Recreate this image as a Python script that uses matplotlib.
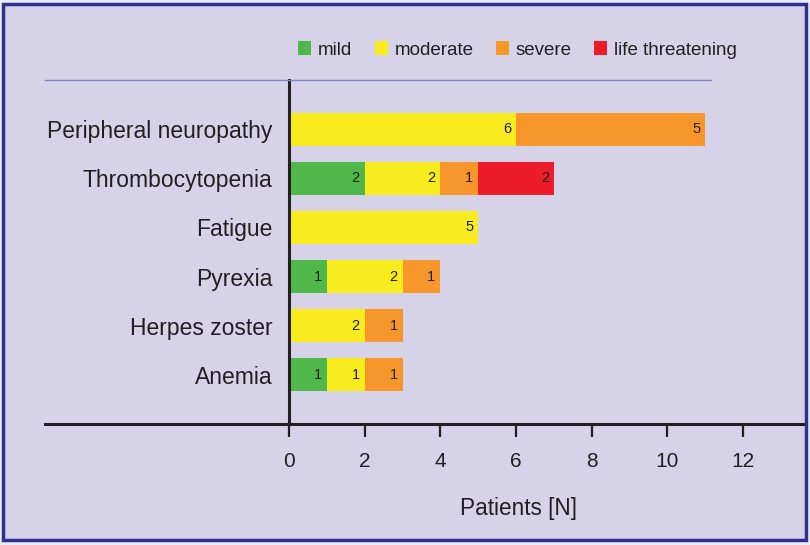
import matplotlib
matplotlib.use("Agg")
import matplotlib.pyplot as plt
from matplotlib.patches import Rectangle, Patch
from matplotlib.lines import Line2D
import numpy as np

plt.rcParams['font.family'] = ['Liberation Sans', 'DejaVu Sans']

categories = ["Peripheral neuropathy", "Thrombocytopenia", "Fatigue", "Pyrexia", "Herpes zoster", "Anemia"]
mild = [0, 2, 0, 1, 0, 1]
moderate = [6, 2, 5, 2, 2, 1]
severe = [5, 1, 0, 1, 1, 1]
life_threatening = [0, 2, 0, 0, 0, 0]
series_names = ["mild", "moderate", "severe", "life threatening"]
colors = ["#50b848", "#f8ec1e", "#f7962b", "#ed1c2b"]
xticks = [0, 2, 4, 6, 8, 10, 12]

W, H = 810, 545
bg = "#d6d3e9"
ink = "#231f20"
fig = plt.figure(figsize=(W / 100, H / 100), dpi=100, facecolor="#ececf4")

# background panel with border
fig.patches.append(Rectangle((3 / W, 5 / H), 803 / W, 536 / H, transform=fig.transFigure,
                             facecolor=bg, edgecolor="#2e3192", linewidth=2.5, zorder=-5))

ax = fig.add_axes([289 / W, 1 - 424 / H, (803 - 289) / W, (424 - 80) / H])
ax.set_facecolor("none")
ax.set_zorder(2)

y = np.arange(len(categories))
left = np.zeros(len(categories))
for vals, name, c in zip([mild, moderate, severe, life_threatening], series_names, colors):
    vals = np.array(vals, dtype=float)
    ax.barh(y, vals, left=left, height=0.67, color=c, label=name, zorder=2)
    for yi, (l, v) in enumerate(zip(left, vals)):
        if v > 0:
            ax.text(l + v - 0.13, yi, f"{int(v)}", ha="right", va="center",
                    fontsize=10.5, color=ink, zorder=3)
    left += vals

ax.set_xlim(0, (803 - 289) / ((743 - 289) / 12))
ax.set_ylim(6.01, -1.01)
ax.set_yticks(y)
ax.set_yticklabels(categories, fontsize=16.5, color=ink)
ax.set_xticks(xticks)
ax.set_xticklabels([str(t) for t in xticks], fontsize=15, color=ink)
ax.tick_params(axis="y", length=0, pad=12)
ax.tick_params(axis="x", direction="out", length=9.5, width=1.6, color=ink, pad=11)
for s in ["top", "right"]:
    ax.spines[s].set_visible(False)
ax.spines["left"].set_linewidth(2.2)
ax.spines["left"].set_color(ink)
ax.spines["bottom"].set_linewidth(2.2)
ax.spines["bottom"].set_color(ink)
ax.set_xlabel("Patients [N]", fontsize=16.3, color=ink)
ax.xaxis.set_label_coords((519 - 289) / (803 - 289), -(497 - 424) / (424 - 80))

# extension of the x-axis line to the left, and the thin top rule
fig.lines.append(Line2D([45 / W, 290 / W], [1 - 424 / H, 1 - 424 / H], transform=fig.transFigure,
                        color=ink, linewidth=2.2, zorder=3))
fig.lines.append(Line2D([45 / W, 711 / W], [1 - 80 / H, 1 - 80 / H], transform=fig.transFigure,
                        color="#8483c4", linewidth=1.0, zorder=3))

handles = [Patch(facecolor=c, edgecolor="none") for c in colors]
fig.legend(handles, series_names, loc="center", bbox_to_anchor=(517.5 / W, 1 - 50 / H), ncol=4,
           frameon=False, fontsize=13.5, handlelength=0.7, handleheight=0.7, handletextpad=0.35,
           columnspacing=1.2, labelcolor=ink)

fig.savefig("out.png", dpi=100, facecolor=fig.get_facecolor())
